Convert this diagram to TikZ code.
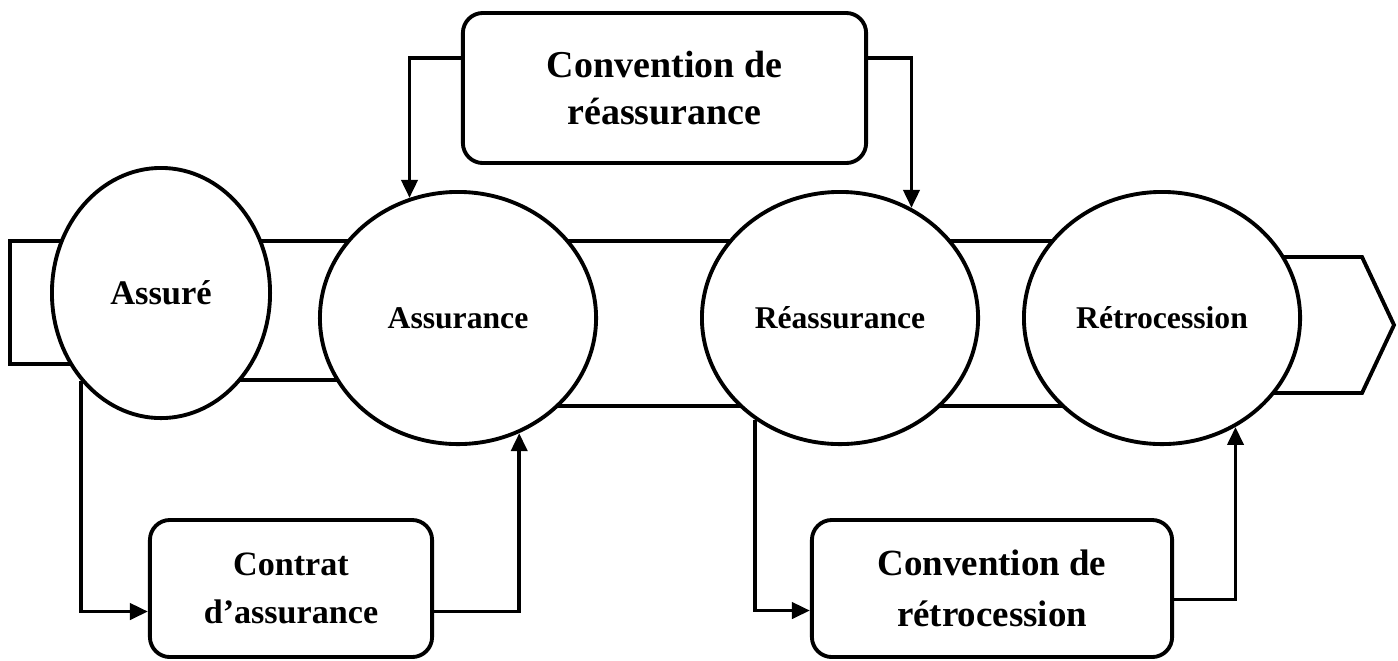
\documentclass[tikz,border=0pt]{standalone}
\usepackage{fontspec}
\setmainfont{Liberation Serif}
\usetikzlibrary{shapes.geometric,arrows.meta}

\tikzset{
  actor/.style={draw, ellipse, fill=white, inner sep=0pt,
    minimum width=2.76cm, minimum height=2.52cm,
    font=\fontsize{9}{11}\selectfont\bfseries},
  contract/.style={draw, rounded corners=0.2cm, fill=white, align=center,
    inner sep=0pt, minimum height=1.37cm},
  conn/.style={-{Triangle[length=0.18cm,width=0.16cm]}},
}

\begin{document}
\begin{tikzpicture}[x=0.01cm, y=-0.01cm, line width=1.1pt]
  \useasboundingbox (0,0) rectangle (1398,660);
  % band behind the actors
  \draw (100,241) -- (10,241) -- (10,364) -- (100,364);
  \draw (200,241) -- (400,241);
  \draw (200,380) -- (400,380);
  \draw (520,241) -- (780,241);
  \draw (520,406) -- (780,406);
  \draw (900,241) -- (1100,241);
  \draw (900,406) -- (1100,406);
  \draw (1200,257) -- (1362,257) -- (1394,325) -- (1362,393) -- (1200,393);

  \node[actor, minimum width=2.18cm, minimum height=2.5cm,
    font=\fontsize{9.8}{12}\selectfont\bfseries] (assure) at (161,293) {Assuré};
  \node[actor] (assurance) at (458,318) {Assurance};
  \node[actor] (reassurance) at (840,318) {Réassurance};
  \node[actor] (retro) at (1162,318) {Rétrocession};

  \node[contract, minimum width=4.03cm, minimum height=1.5cm,
    font=\fontsize{10.8}{13.6}\selectfont\bfseries] (convreas) at (664.5,88)
    {Convention de\\réassurance};
  \node[contract, minimum width=2.82cm,
    font=\fontsize{9.7}{13.6}\selectfont\bfseries] (contrat) at (291,588.5)
    {Contrat\\d’assurance};
  \node[contract, minimum width=3.6cm,
    font=\fontsize{10.5}{14.4}\selectfont\bfseries] (convretro) at (992,588.5)
    {Convention de\\rétrocession};

  % contracts
  \draw[conn] ([yshift=0.3cm]convreas.west) -| (assurance.112);
  \draw[conn] ([yshift=0.3cm]convreas.east) -| (reassurance.57);
  \draw[conn] (assure.228) |- ([yshift=-0.23cm]contrat.west);
  \draw[conn] ([yshift=-0.23cm]contrat.east) -| (assurance.298);
  \draw[conn] (reassurance.230) |- ([yshift=-0.22cm]convretro.west);
  \draw[conn] ([yshift=-0.11cm]convretro.east) -| (retro.304);
\end{tikzpicture}
\end{document}
